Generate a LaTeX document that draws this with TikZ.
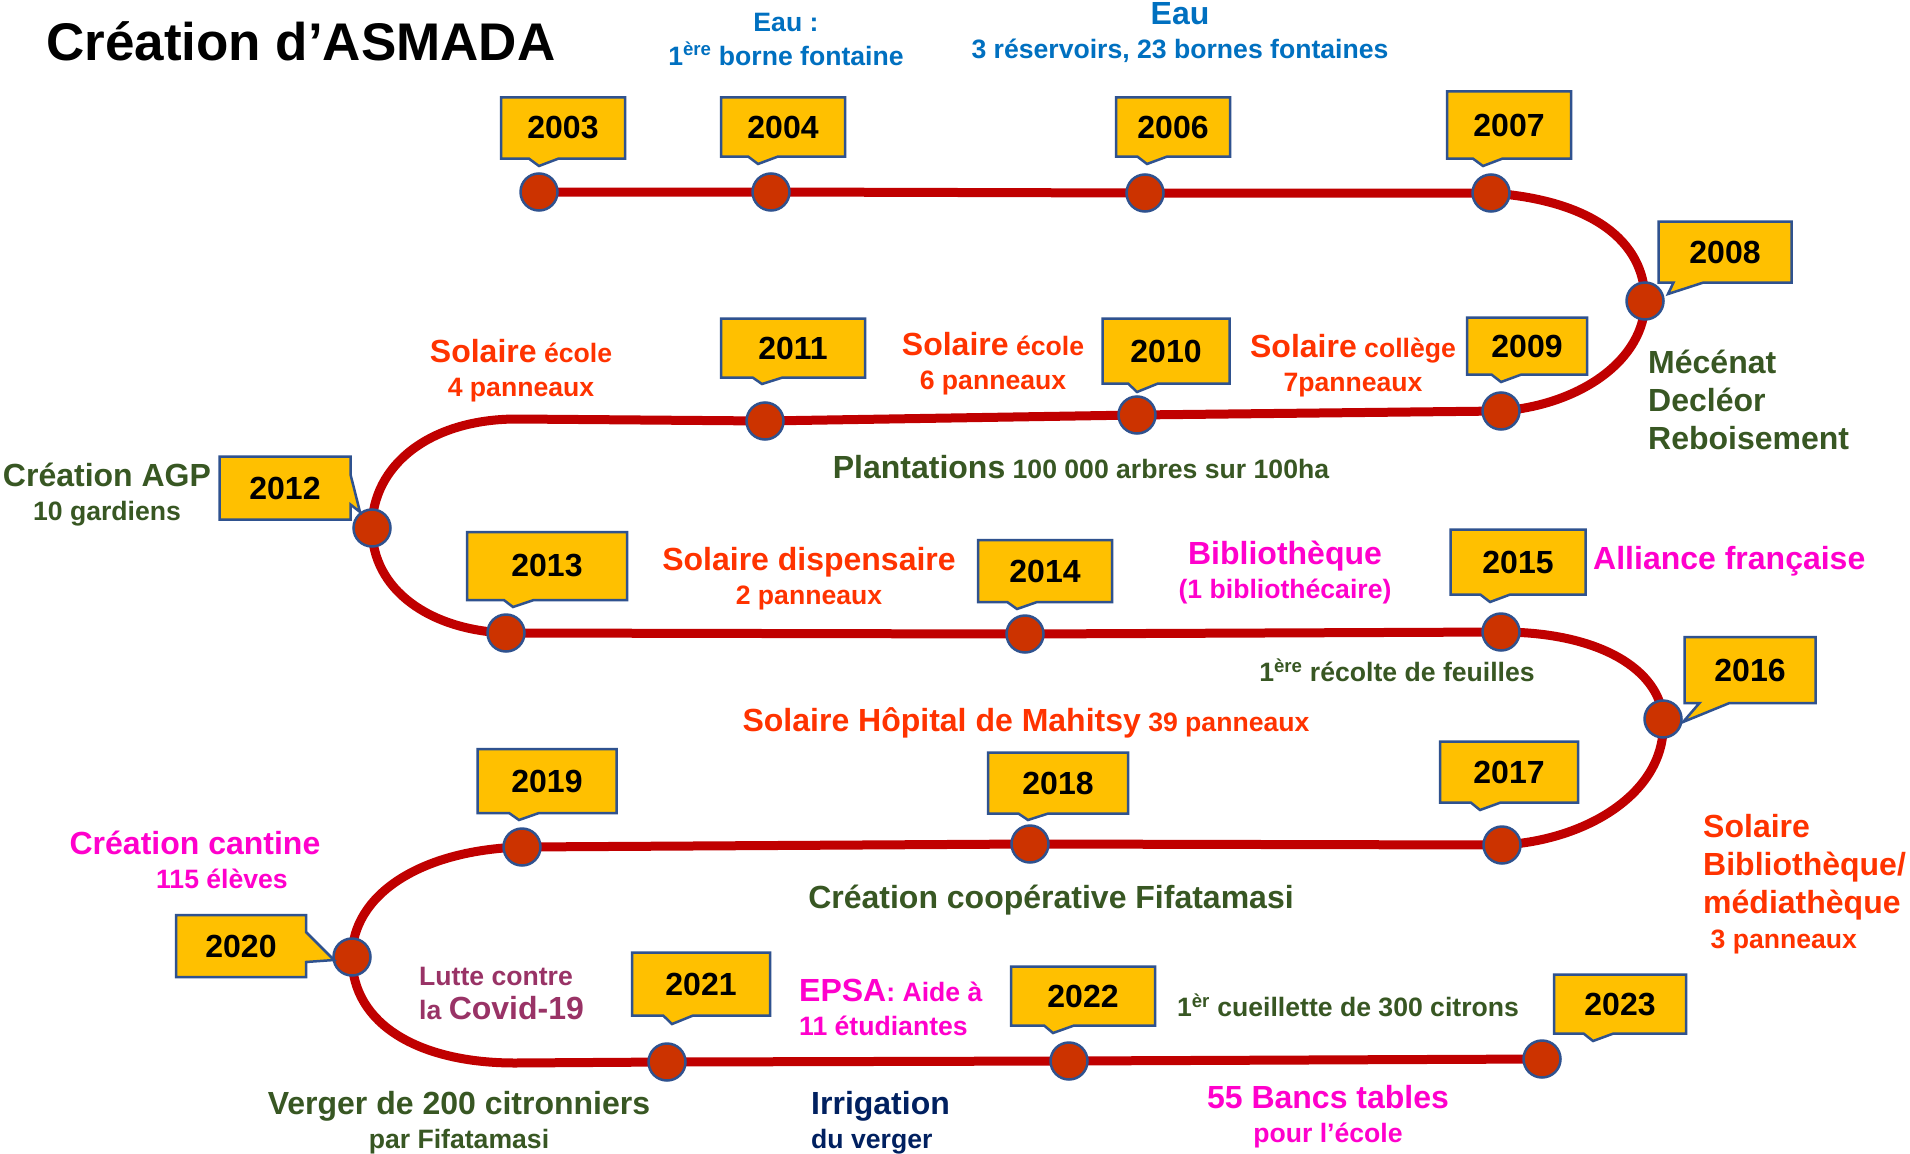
\documentclass[tikz,border=0pt]{standalone}
\usepackage{fontspec}
\setmainfont{Liberation Sans}
\usetikzlibrary{shapes.callouts,backgrounds}

\definecolor{jaune}{HTML}{FFC000}
\definecolor{bordbleu}{HTML}{2F528F}
\definecolor{rail}{HTML}{C00000}
\definecolor{brique}{HTML}{CC3300}
\definecolor{rouge}{HTML}{FF3300}
\definecolor{vert}{HTML}{385723}
\definecolor{bleu}{HTML}{0070C0}
\definecolor{rose}{HTML}{FF00CC}
\definecolor{marine}{HTML}{002060}
\definecolor{prune}{HTML}{993366}

\newcommand{\grand}{\fontsize{32}{38}\selectfont}
\newcommand{\petit}{\fontsize{26.6}{34}\selectfont}

\tikzset{
  annee/.style={rectangle callout, draw=bordbleu, line width=2.5pt, fill=jaune,
    font=\fontsize{32}{32}\selectfont\bfseries, inner sep=0pt,
    callout pointer width=30pt},
  pastille/.style={circle, draw=bordbleu, line width=2.5pt, fill=brique,
    minimum size=37pt, inner sep=0pt},
  legende/.style={font=\petit\bfseries, align=center, inner sep=0pt},
  voie/.style={draw=rail, line width=9pt},
}

\begin{document}
\begin{tikzpicture}[x=1pt,y=-1pt]
\useasboundingbox (0,0) rectangle (1910,1153);

% pastilles des années
\node[pastille] (d2003) at (539,192) {};
\node[pastille] (d2004) at (771,192) {};
\node[pastille] (d2006) at (1145,193) {};
\node[pastille] (d2007) at (1491,193) {};
\node[pastille] (d2008) at (1645,301) {};
\node[pastille] (d2009) at (1501,411) {};
\node[pastille] (d2010) at (1137,415) {};
\node[pastille] (d2011) at (765,421) {};
\node[pastille] (d2012) at (372,528) {};
\node[pastille] (d2013) at (506,633) {};
\node[pastille] (d2014) at (1025,634) {};
\node[pastille] (d2015) at (1501,632) {};
\node[pastille] (d2016) at (1663,719) {};
\node[pastille] (d2017) at (1502,845) {};
\node[pastille] (d2018) at (1030,844) {};
\node[pastille] (d2019) at (522,847) {};
\node[pastille] (d2020) at (352,957) {};
\node[pastille] (d2021) at (667,1062) {};
\node[pastille] (d2022) at (1069,1061) {};
\node[pastille] (d2023) at (1542,1059) {};

\coordinate (virage1) at (517,419);
\coordinate (virage2) at (515,1063);

% la voie, sous les pastilles
\begin{scope}[on background layer]
\fill[white] (0,0) rectangle (1910,1153);
\draw[voie] (d2003.center) -- (d2004.center) -- (d2006.center) -- (d2007.center)
  .. controls (1590,200) and (1645,240) .. (d2008.center)
  .. controls (1645,360) and (1580,405) .. (d2009.center)
  -- (d2010.center) -- (d2011.center) -- (virage1)
  .. controls (430,419) and (372,465) .. (d2012.center)
  .. controls (372,590) and (430,630) .. (d2013.center)
  -- (d2014.center) -- (d2015.center)
  .. controls (1600,632) and (1660,670) .. (d2016.center)
  .. controls (1668,790) and (1590,840) .. (d2017.center)
  -- (d2018.center) -- (d2019.center)
  .. controls (420,850) and (352,895) .. (d2020.center)
  .. controls (352,1025) and (420,1063) .. (virage2)
  -- (d2021.center) -- (d2022.center) -- (d2023.center);
\end{scope}

% bulles des années
\node[annee, minimum width=124pt, minimum height=61pt, callout absolute pointer={(539,166)}] (a2003) at (563,128) {2003};
\node[annee, minimum width=124pt, minimum height=59pt, callout absolute pointer={(758,164)}] (a2004) at (783,127) {2004};
\node[annee, minimum width=114pt, minimum height=59pt, callout absolute pointer={(1147,164)}] (a2006) at (1173,127) {2006};
\node[annee, minimum width=124pt, minimum height=67pt, callout absolute pointer={(1483,166)}] (a2007) at (1509,125) {2007};
\node[annee, minimum width=133pt, minimum height=61pt, callout absolute pointer={(1668,294)}] (a2008) at (1725,252) {2008};
\node[annee, minimum width=120pt, minimum height=57pt, callout absolute pointer={(1501,382)}] (a2009) at (1527,346) {2009};
\node[annee, minimum width=127pt, minimum height=65pt, callout absolute pointer={(1137,392)}] (a2010) at (1166,351) {2010};
\node[annee, minimum width=144pt, minimum height=59pt, callout absolute pointer={(762,384)}] (a2011) at (793,348) {2011};
\node[annee, minimum width=131pt, minimum height=63pt, callout absolute pointer={(360,512)}] (a2012) at (285,488) {2012};
\node[annee, minimum width=160pt, minimum height=68pt, callout absolute pointer={(513,607)}] (a2013) at (547,566) {2013};
\node[annee, minimum width=134pt, minimum height=62pt, callout absolute pointer={(1017,609)}] (a2014) at (1045,571) {2014};
\node[annee, minimum width=135pt, minimum height=65pt, callout absolute pointer={(1490,602)}] (a2015) at (1518,562) {2015};
\node[annee, minimum width=131pt, minimum height=66pt, callout absolute pointer={(1683,722)}] (a2016) at (1750,670) {2016};
\node[annee, minimum width=138pt, minimum height=61pt, callout absolute pointer={(1480,810)}] (a2017) at (1509,772) {2017};
\node[annee, minimum width=140pt, minimum height=61pt, callout absolute pointer={(1028,820)}] (a2018) at (1058,783) {2018};
\node[annee, minimum width=139pt, minimum height=64pt, callout absolute pointer={(519,820)}] (a2019) at (547,781) {2019};
\node[annee, minimum width=130pt, minimum height=62pt, callout absolute pointer={(334,960)}] (a2020) at (241,946) {2020};
\node[annee, minimum width=138pt, minimum height=63pt, callout absolute pointer={(672,1024)}] (a2021) at (701,984) {2021};
\node[annee, minimum width=144pt, minimum height=59pt, callout absolute pointer={(1053,1033)}] (a2022) at (1083,996) {2022};
\node[annee, minimum width=132pt, minimum height=59pt, callout absolute pointer={(1593,1041)}] (a2023) at (1620,1004) {2023};

% titre
\node[anchor=west, inner sep=0pt, font=\fontsize{53}{60}\selectfont\bfseries] (titre) at (46,41) {Création d’ASMADA};

% textes
\node[legende, text=bleu] (eau1) at (786,39) {Eau :\\1\textsuperscript{ère} borne fontaine};
\node[legende, text=bleu] (eau2) at (1180,33) {{\grand Eau}\\3 réservoirs, 23 bornes fontaines};
\node[legende, text=rouge] (sol2011) at (521,371) {{\grand Solaire} école\\4 panneaux};
\node[legende, text=rouge] (sol2010) at (993,364) {{\grand Solaire} école\\6 panneaux};
\node[legende, text=rouge] (sol2009) at (1353,366) {{\grand Solaire} collège\\7panneaux};
\node[legende, text=vert, font=\grand\bfseries, align=left, anchor=west] (mecenat) at (1648,400) {Mécénat\\Decléor\\Reboisement};
\node[legende, text=vert] (plantations) at (1081,467) {{\grand Plantations} 100 000 arbres sur 100ha};
\node[legende, text=vert] (agp) at (107,495) {{\grand Création AGP}\\10 gardiens};
\node[legende, text=rouge] (dispensaire) at (809,579) {{\grand Solaire dispensaire}\\2 panneaux};
\node[legende, text=rose] (biblio) at (1285,573) {{\grand Bibliothèque}\\(1 bibliothécaire)};
\node[legende, text=rose, font=\grand\bfseries, anchor=west] (alliance) at (1593,561) {Alliance française};
\node[legende, text=vert] (feuilles) at (1397,670) {1\textsuperscript{ère} récolte de feuilles};
\node[legende, text=rouge] (hopital) at (1026,723) {{\grand Solaire Hôpital de Mahitsy} 39 panneaux};
\node[legende, text=rouge, font=\grand\bfseries, align=left, anchor=west] (mediatheque) at (1703,884) {Solaire\\Bibliothèque/\\médiathèque\\[-3pt]{\petit\ 3 panneaux}};
\node[legende, text=rose] (cantine) at (195,860) {{\grand Création cantine}\\\hspace*{54pt}115 élèves};
\node[legende, text=vert, font=\grand\bfseries] (cooperative) at (1051,900) {Création coopérative Fifatamasi};
\node[legende, text=prune, align=left, anchor=west] (covid) at (419,993) {Lutte contre\\la {\grand Covid-19}};
\node[legende, text=rose, align=left, anchor=west] (epsa) at (799,1007) {{\grand EPSA}: Aide à\\11 étudiantes};
\node[legende, text=vert] (cueillette) at (1348,1005) {1\textsuperscript{èr} cueillette de 300 citrons};
\node[legende, text=vert] (verger) at (459,1123) {{\grand Verger de 200 citronniers}\\par Fifatamasi};
\node[legende, text=marine, align=left, anchor=west] (irrigation) at (811,1123) {{\grand Irrigation}\\du verger};
\node[legende, text=rose] (bancs) at (1328,1117) {{\grand 55 Bancs tables}\\pour l’école};
\end{tikzpicture}
\end{document}
